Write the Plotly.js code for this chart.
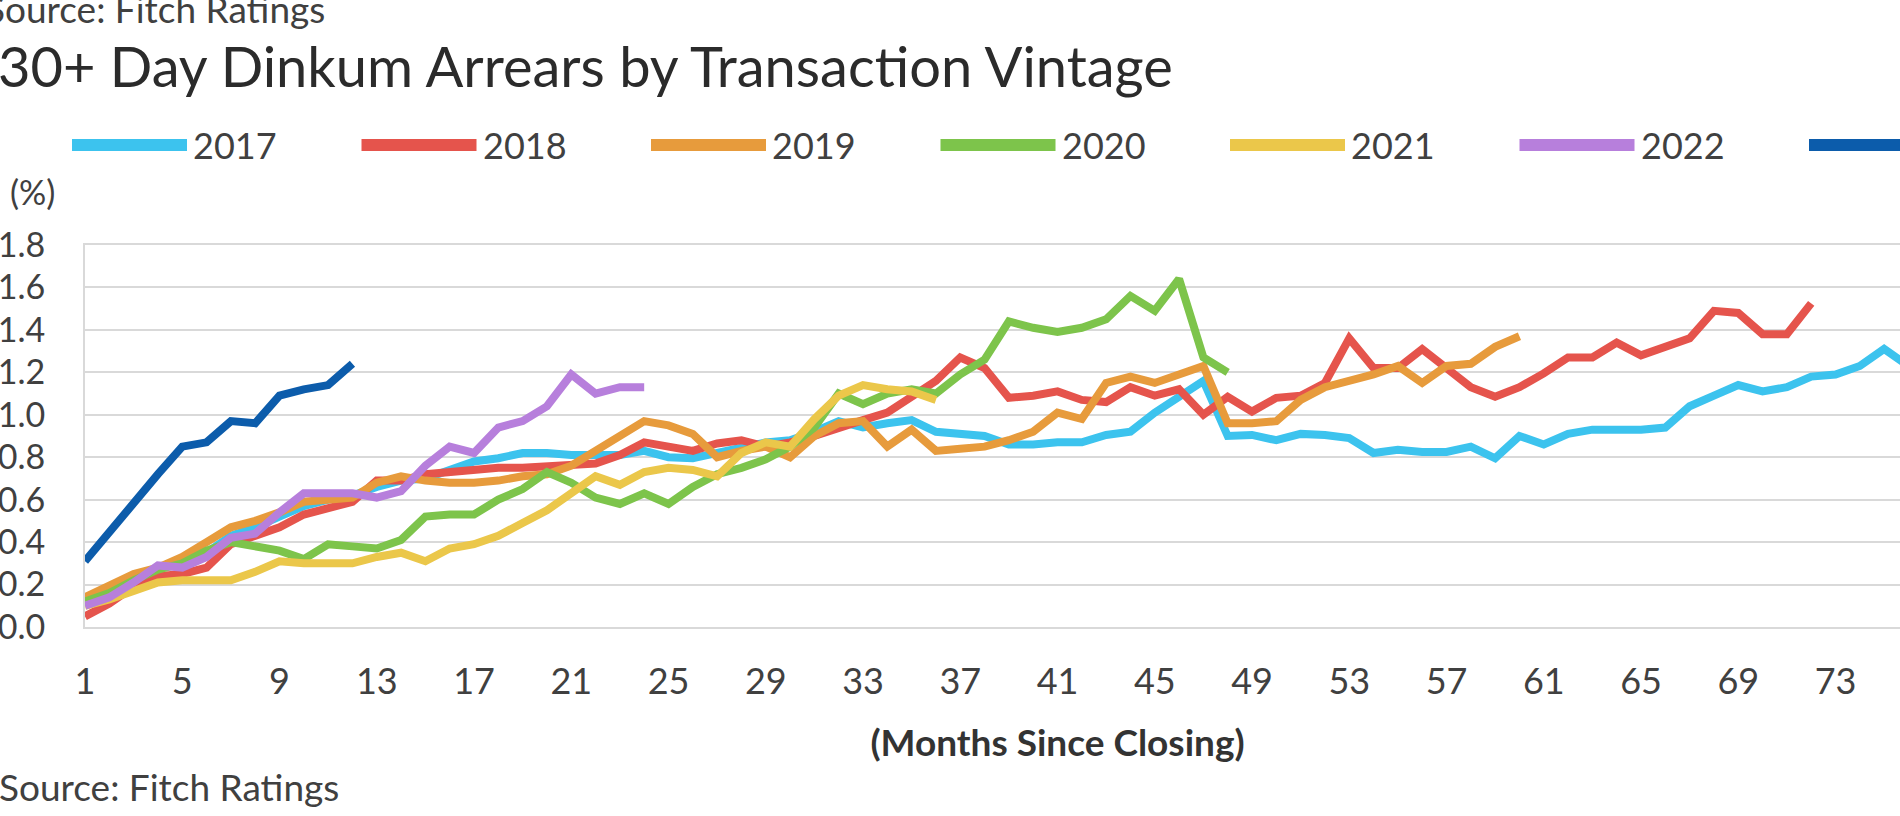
<!DOCTYPE html>
<html>
<head>
<meta charset="utf-8">
<script src="https://cdn.plot.ly/plotly-3.0.1.min.js"></script>
<style>
  html, body { margin: 0; padding: 0; overflow: hidden; background: #fff; }
  #chart { position: absolute; left: -20px; top: 0; width: 2080px; height: 816px; }
</style>
</head>
<body>
<div id="chart"></div>
<script>
// 30+ day arrears (%) by months since closing, one array per vintage
var vintages = ['2017', '2018', '2019', '2020', '2021', '2022', '2023'];
var colors = ['#3cc3ee', '#e5544c', '#e79b3c', '#7dc44b', '#ebc74a', '#b77fdc', '#0c5cab'];

var v2017 = [0.12, 0.16, 0.22, 0.28, 0.30, 0.35, 0.43, 0.47, 0.52, 0.57,
  0.60, 0.62, 0.66, 0.69, 0.70, 0.74, 0.78, 0.795, 0.82, 0.82,
  0.81, 0.81, 0.81, 0.83, 0.80, 0.795, 0.82, 0.85, 0.87, 0.88,
  0.92, 0.97, 0.94, 0.96, 0.975, 0.92, 0.91, 0.90, 0.86, 0.86,
  0.87, 0.87, 0.905, 0.92, 1.01, 1.085, 1.16, 0.90, 0.905, 0.88,
  0.91, 0.905, 0.89, 0.82, 0.835, 0.825, 0.825, 0.85, 0.795, 0.90,
  0.86, 0.91, 0.93, 0.93, 0.93, 0.94, 1.04, 1.09, 1.14, 1.11,
  1.13, 1.18, 1.19, 1.23, 1.31, 1.23];
var v2018 = [0.05, 0.11, 0.19, 0.24, 0.25, 0.28, 0.39, 0.43, 0.47, 0.53,
  0.56, 0.59, 0.69, 0.69, 0.72, 0.73, 0.74, 0.75, 0.75, 0.755,
  0.76, 0.77, 0.81, 0.87, 0.85, 0.83, 0.865, 0.88, 0.85, 0.87,
  0.90, 0.94, 0.975, 1.01, 1.08, 1.16, 1.27, 1.22, 1.08, 1.09,
  1.11, 1.07, 1.06, 1.13, 1.09, 1.12, 1.00, 1.085, 1.015, 1.08,
  1.09, 1.15, 1.36, 1.22, 1.22, 1.31, 1.22, 1.13, 1.085, 1.13,
  1.195, 1.27, 1.27, 1.34, 1.28, 1.32, 1.36, 1.49, 1.48, 1.38,
  1.38, 1.525];
var v2019 = [0.14, 0.20, 0.25, 0.28, 0.33, 0.40, 0.47, 0.50, 0.54, 0.59,
  0.60, 0.61, 0.68, 0.71, 0.69, 0.68, 0.68, 0.69, 0.71, 0.72,
  0.76, 0.83, 0.91, 0.97, 0.95, 0.91, 0.80, 0.83, 0.85, 0.80,
  0.90, 0.96, 0.97, 0.85, 0.93, 0.83, 0.84, 0.85, 0.88, 0.92,
  1.01, 0.98, 1.15, 1.18, 1.15, 1.19, 1.23, 0.96, 0.96, 0.97,
  1.07, 1.13, 1.16, 1.19, 1.23, 1.15, 1.23, 1.24, 1.32, 1.37];
var v2020 = [0.12, 0.16, 0.22, 0.27, 0.30, 0.36, 0.40, 0.38, 0.36, 0.32,
  0.39, 0.38, 0.37, 0.41, 0.52, 0.53, 0.53, 0.60, 0.65, 0.73,
  0.68, 0.61, 0.58, 0.63, 0.58, 0.66, 0.72, 0.75, 0.79, 0.85,
  0.94, 1.10, 1.05, 1.10, 1.12, 1.10, 1.19, 1.26, 1.44, 1.41,
  1.39, 1.41, 1.45, 1.56, 1.49, 1.64, 1.27, 1.20];
var v2021 = [0.10, 0.13, 0.17, 0.21, 0.22, 0.22, 0.22, 0.26, 0.31, 0.30,
  0.30, 0.30, 0.33, 0.35, 0.31, 0.37, 0.39, 0.43, 0.49, 0.55,
  0.63, 0.71, 0.67, 0.73, 0.75, 0.74, 0.71, 0.82, 0.87, 0.85,
  0.98, 1.09, 1.14, 1.12, 1.11, 1.07];
var v2022 = [0.10, 0.14, 0.21, 0.29, 0.28, 0.33, 0.42, 0.44, 0.54, 0.63,
  0.63, 0.63, 0.61, 0.64, 0.76, 0.85, 0.82, 0.94, 0.97, 1.04,
  1.19, 1.10, 1.13, 1.13];
var v2023 = [0.31, 0.45, 0.59, 0.72, 0.85, 0.87, 0.97, 0.96, 1.09, 1.12,
  1.14, 1.24];

var series = [v2017, v2018, v2019, v2020, v2021, v2022, v2023];

// page geometry (px in the 1900 wide window)
var SHIFT = 20, PLOT_L = 85, PLOT_R = 2030, PLOT_T = 245, PLOT_B = 627;
function px(x) { return (x - PLOT_L) / (PLOT_R - PLOT_L); }
function py(y) { return (PLOT_B - y) / (PLOT_B - PLOT_T); }

var data = series.map(function (vals, i) {
  return {
    x: vals.map(function (v, k) { return k + 1; }),
    y: vals,
    name: vintages[i],
    type: 'scatter',
    mode: 'lines',
    line: {color: colors[i], width: 8},
    hoverinfo: 'x+y+name'
  };
});

var shapes = [];
var annotations = [];
var legX = 72, legStep = 289.5, legLen = 115, legY = 145;
vintages.forEach(function (name, i) {
  var x0 = legX + i * legStep;
  shapes.push({
    type: 'line', xref: 'paper', yref: 'paper',
    x0: px(x0), x1: px(x0 + legLen), y0: py(legY), y1: py(legY),
    line: {color: colors[i], width: 12}
  });
  annotations.push({
    text: name, xref: 'paper', yref: 'paper',
    x: px(x0 + legLen + 4), y: py(legY), xanchor: 'left', yanchor: 'middle',
    showarrow: false, font: {size: 36, color: '#404040'}
  });
});

annotations.push({
  text: 'Source: Fitch Ratings', xref: 'paper', yref: 'paper',
  x: px(-17), y: py(9), xanchor: 'left', yanchor: 'middle',
  showarrow: false, font: {size: 37, color: '#404040'}
});
annotations.push({
  text: '30+ Day Dinkum Arrears by Transaction Vintage', xref: 'paper', yref: 'paper',
  x: px(-4), y: py(66), xanchor: 'left', yanchor: 'middle',
  showarrow: false, font: {size: 56, color: '#2b2b2b'}
});
annotations.push({
  text: '(%)', xref: 'paper', yref: 'paper',
  x: px(8), y: py(191), xanchor: 'left', yanchor: 'middle',
  showarrow: false, font: {size: 34, color: '#404040'}
});
annotations.push({
  text: 'Source: Fitch Ratings', xref: 'paper', yref: 'paper',
  x: px(-3), y: py(786), xanchor: 'left', yanchor: 'middle',
  showarrow: false, font: {size: 37, color: '#404040'}
});

var layout = {
  width: 2080,
  height: 816,
  margin: {l: PLOT_L + SHIFT, r: 2080 - PLOT_R - SHIFT, t: PLOT_T, b: 816 - PLOT_B},
  paper_bgcolor: '#ffffff',
  plot_bgcolor: '#ffffff',
  font: {family: 'Lato, sans-serif', color: '#404040', size: 34},
  showlegend: false,
  xaxis: {
    range: [1, 81],
    tick0: 1,
    dtick: 4,
    showgrid: false,
    zeroline: false,
    showline: true,
    mirror: true,
    linecolor: '#d9d9d9',
    linewidth: 2,
    ticks: '',
    ticklabelstandoff: 22,
    tickfont: {size: 36},
    title: {text: '<b>(Months Since Closing)</b>', font: {size: 37, color: '#333333'}, standoff: 29}
  },
  yaxis: {
    range: [0, 1.8],
    dtick: 0.2,
    tickformat: '.1f',
    showgrid: true,
    gridcolor: '#d9d9d9',
    gridwidth: 2,
    zeroline: false,
    showline: true,
    mirror: true,
    linecolor: '#d9d9d9',
    linewidth: 2,
    ticks: '',
    ticklabelstandoff: 31,
    tickfont: {size: 34}
  },
  shapes: shapes,
  annotations: annotations
};

Plotly.newPlot('chart', data, layout, {displayModeBar: false, staticPlot: true});
</script>
</body>
</html>
